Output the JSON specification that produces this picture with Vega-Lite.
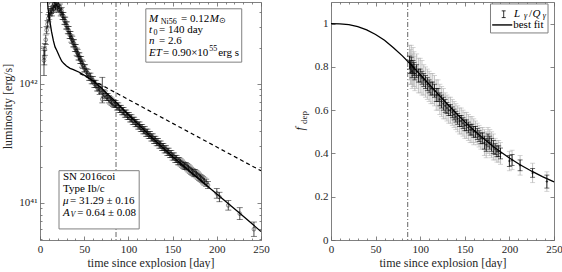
{
 "$schema": "https://vega.github.io/schema/vega-lite/v6.json",
 "padding": {"left": 1, "top": 1, "right": 0, "bottom": 0},
 "spacing": 22,
 "config": {
  "font": "Liberation Serif",
  "view": {"stroke": "#808080", "strokeWidth": 1},
  "axis": {"grid": false, "domain": false, "labelFont": "Liberation Serif", "labelFontSize": 11, "labelColor": "#262626", "titleFont": "Liberation Serif", "titleFontSize": 12, "titleFontWeight": "normal", "titleColor": "#262626", "tickColor": "#666666", "tickWidth": 0.8, "tickSize": -4, "labelPadding": 7, "titlePadding": 3, "labelFlush": false, "labelOverlap": false},
  "text": {"font": "Liberation Serif", "fontSize": 11, "color": "#000000", "align": "left", "baseline": "middle"}
 },
 "datasets": {
  "lum": [
   {"t":4.5,"logL":42.196,"lo":42.07,"hi":42.31},{"t":4.8,"logL":42.224,"lo":42.16,"hi":42.28},{"t":5.5,"logL":42.29,"lo":42.24,"hi":42.34},{"t":6.5,"logL":42.37,"lo":42.33,"hi":42.41},{"t":7.5,"logL":42.45,"lo":42.42,"hi":42.48},{"t":8.5,"logL":42.5,"lo":42.47,"hi":42.53},{"t":9.5,"logL":42.55,"lo":42.52,"hi":42.58},{"t":10.5,"logL":42.57,"lo":42.54,"hi":42.6},{"t":11.5,"logL":42.6,"lo":42.57,"hi":42.63},{"t":12.5,"logL":42.62,"lo":42.59,"hi":42.65},{"t":13.5,"logL":42.6,"lo":42.57,"hi":42.63},{"t":14.5,"logL":42.65,"lo":42.62,"hi":42.68},{"t":15.5,"logL":42.63,"lo":42.6,"hi":42.66},{"t":16.5,"logL":42.67,"lo":42.64,"hi":42.7},{"t":17.5,"logL":42.65,"lo":42.62,"hi":42.68},{"t":18.5,"logL":42.68,"lo":42.65,"hi":42.71},{"t":19.5,"logL":42.64,"lo":42.61,"hi":42.67},{"t":20.5,"logL":42.66,"lo":42.63,"hi":42.69},{"t":21.5,"logL":42.63,"lo":42.6,"hi":42.66},{"t":22.5,"logL":42.64,"lo":42.61,"hi":42.67},{"t":23.5,"logL":42.6,"lo":42.57,"hi":42.63},{"t":24.5,"logL":42.61,"lo":42.58,"hi":42.64},{"t":25.5,"logL":42.57,"lo":42.54,"hi":42.6},{"t":26.5,"logL":42.57,"lo":42.54,"hi":42.6},{"t":27.5,"logL":42.53,"lo":42.5,"hi":42.56},{"t":28.5,"logL":42.53,"lo":42.5,"hi":42.56},{"t":29.5,"logL":42.49,"lo":42.46,"hi":42.52},{"t":30.5,"logL":42.49,"lo":42.46,"hi":42.52},{"t":31.5,"logL":42.45,"lo":42.42,"hi":42.48},{"t":32.5,"logL":42.45,"lo":42.42,"hi":42.48},{"t":33.5,"logL":42.41,"lo":42.38,"hi":42.44},{"t":34.5,"logL":42.41,"lo":42.38,"hi":42.44},{"t":35.5,"logL":42.38,"lo":42.35,"hi":42.41},{"t":36.5,"logL":42.37,"lo":42.34,"hi":42.4},{"t":37.5,"logL":42.34,"lo":42.31,"hi":42.37},{"t":38.5,"logL":42.34,"lo":42.31,"hi":42.37},{"t":39.5,"logL":42.3,"lo":42.27,"hi":42.33},{"t":40.5,"logL":42.3,"lo":42.27,"hi":42.33},{"t":41.5,"logL":42.27,"lo":42.24,"hi":42.3},{"t":42.5,"logL":42.26,"lo":42.23,"hi":42.29},{"t":43.5,"logL":42.23,"lo":42.2,"hi":42.26},{"t":44.5,"logL":42.23,"lo":42.2,"hi":42.26},{"t":45.5,"logL":42.2,"lo":42.17,"hi":42.23},{"t":46.5,"logL":42.2,"lo":42.17,"hi":42.23},{"t":47.5,"logL":42.17,"lo":42.14,"hi":42.2},{"t":48.5,"logL":42.16,"lo":42.13,"hi":42.19},{"t":50,"logL":42.13,"lo":42.1,"hi":42.16},{"t":51,"logL":42.13,"lo":42.1,"hi":42.16},{"t":52.5,"logL":42.1,"lo":42.07,"hi":42.13},{"t":54,"logL":42.09,"lo":42.06,"hi":42.12},{"t":55.5,"logL":42.06,"lo":42.03,"hi":42.09},{"t":57,"logL":42.06,"lo":42.03,"hi":42.09},{"t":58.5,"logL":42.03,"lo":42.0,"hi":42.06},{"t":60,"logL":42.03,"lo":42.0,"hi":42.06},{"t":61.5,"logL":42.0,"lo":41.97,"hi":42.03},{"t":63,"logL":42.0,"lo":41.97,"hi":42.03},{"t":64.5,"logL":41.97,"lo":41.94,"hi":42.0},{"t":66,"logL":41.97,"lo":41.94,"hi":42.0},{"t":67.5,"logL":41.94,"lo":41.91,"hi":41.97},{"t":69,"logL":41.95,"lo":41.92,"hi":41.98},{"t":70.5,"logL":41.87,"lo":41.84,"hi":42.055},{"t":72,"logL":41.92,"lo":41.89,"hi":41.95},{"t":73.5,"logL":41.91,"lo":41.88,"hi":41.94},{"t":75,"logL":41.89,"lo":41.86,"hi":41.92},{"t":76.5,"logL":41.89,"lo":41.86,"hi":41.92},{"t":78,"logL":41.87,"lo":41.84,"hi":41.9},{"t":79.5,"logL":41.86,"lo":41.83,"hi":41.89},{"t":81,"logL":41.85,"lo":41.82,"hi":41.88},{"t":82.5,"logL":41.84,"lo":41.81,"hi":41.87},{"t":84,"logL":41.83,"lo":41.8,"hi":41.86},{"t":85.5,"logL":41.83,"lo":41.8,"hi":41.86},{"t":87,"logL":41.81,"lo":41.78,"hi":41.84},{"t":88.5,"logL":41.81,"lo":41.78,"hi":41.84},{"t":90,"logL":41.79,"lo":41.76,"hi":41.82},{"t":91.5,"logL":41.79,"lo":41.76,"hi":41.82},{"t":93,"logL":41.77,"lo":41.74,"hi":41.8},{"t":94.5,"logL":41.77,"lo":41.74,"hi":41.8},{"t":96,"logL":41.75,"lo":41.72,"hi":41.78},{"t":97.5,"logL":41.75,"lo":41.72,"hi":41.78},{"t":99,"logL":41.73,"lo":41.7,"hi":41.76},{"t":100.5,"logL":41.73,"lo":41.7,"hi":41.76},{"t":102,"logL":41.71,"lo":41.68,"hi":41.74},{"t":103.5,"logL":41.71,"lo":41.68,"hi":41.74},{"t":105,"logL":41.69,"lo":41.66,"hi":41.72},{"t":106.5,"logL":41.69,"lo":41.66,"hi":41.72},{"t":108,"logL":41.67,"lo":41.64,"hi":41.7},{"t":109.5,"logL":41.67,"lo":41.64,"hi":41.7},{"t":111,"logL":41.65,"lo":41.62,"hi":41.68},{"t":112.5,"logL":41.65,"lo":41.62,"hi":41.68},{"t":114,"logL":41.63,"lo":41.6,"hi":41.66},{"t":115.5,"logL":41.63,"lo":41.6,"hi":41.66},{"t":117,"logL":41.61,"lo":41.58,"hi":41.64},{"t":118.5,"logL":41.61,"lo":41.58,"hi":41.64},{"t":120,"logL":41.59,"lo":41.56,"hi":41.62},{"t":121.5,"logL":41.59,"lo":41.56,"hi":41.62},{"t":123,"logL":41.57,"lo":41.54,"hi":41.6},{"t":124.5,"logL":41.57,"lo":41.54,"hi":41.6},{"t":126,"logL":41.55,"lo":41.52,"hi":41.58},{"t":127.5,"logL":41.55,"lo":41.52,"hi":41.58},{"t":129,"logL":41.53,"lo":41.5,"hi":41.56},{"t":130.5,"logL":41.53,"lo":41.5,"hi":41.56},{"t":132,"logL":41.51,"lo":41.48,"hi":41.54},{"t":133.5,"logL":41.51,"lo":41.48,"hi":41.54},{"t":135,"logL":41.49,"lo":41.46,"hi":41.52},{"t":136.5,"logL":41.49,"lo":41.46,"hi":41.52},{"t":138,"logL":41.47,"lo":41.44,"hi":41.5},{"t":139.5,"logL":41.47,"lo":41.44,"hi":41.5},{"t":141,"logL":41.45,"lo":41.42,"hi":41.48},{"t":142.5,"logL":41.45,"lo":41.42,"hi":41.48},{"t":144,"logL":41.43,"lo":41.4,"hi":41.46},{"t":145.5,"logL":41.43,"lo":41.4,"hi":41.46},{"t":147,"logL":41.41,"lo":41.38,"hi":41.44},{"t":148.5,"logL":41.41,"lo":41.38,"hi":41.44},{"t":150,"logL":41.39,"lo":41.36,"hi":41.42},{"t":151.5,"logL":41.39,"lo":41.36,"hi":41.42},{"t":153,"logL":41.37,"lo":41.34,"hi":41.4},{"t":154.5,"logL":41.37,"lo":41.34,"hi":41.4},{"t":156,"logL":41.35,"lo":41.32,"hi":41.38},{"t":157.5,"logL":41.35,"lo":41.32,"hi":41.38},{"t":159,"logL":41.34,"lo":41.31,"hi":41.37},{"t":160.5,"logL":41.33,"lo":41.3,"hi":41.36},{"t":162,"logL":41.32,"lo":41.29,"hi":41.35},{"t":163.5,"logL":41.31,"lo":41.28,"hi":41.34},{"t":165,"logL":41.31,"lo":41.28,"hi":41.34},{"t":166.5,"logL":41.3,"lo":41.27,"hi":41.33},{"t":168,"logL":41.29,"lo":41.26,"hi":41.32},{"t":169.5,"logL":41.28,"lo":41.25,"hi":41.31},{"t":171,"logL":41.27,"lo":41.24,"hi":41.3},{"t":172.5,"logL":41.26,"lo":41.23,"hi":41.29},{"t":174,"logL":41.25,"lo":41.22,"hi":41.28},{"t":175.5,"logL":41.25,"lo":41.22,"hi":41.28},{"t":177,"logL":41.24,"lo":41.21,"hi":41.27},{"t":178.5,"logL":41.23,"lo":41.2,"hi":41.26},{"t":180,"logL":41.22,"lo":41.19,"hi":41.25},{"t":181.5,"logL":41.21,"lo":41.18,"hi":41.24},{"t":183,"logL":41.2,"lo":41.17,"hi":41.23},{"t":184.5,"logL":41.19,"lo":41.16,"hi":41.22},{"t":186,"logL":41.18,"lo":41.15,"hi":41.21},{"t":188,"logL":41.17,"lo":41.14,"hi":41.2},{"t":190,"logL":41.15,"lo":41.12,"hi":41.18},{"t":200,"logL":41.08,"lo":41.04,"hi":41.12},{"t":203,"logL":41.05,"lo":41.01,"hi":41.09},{"t":213,"logL":40.98,"lo":40.94,"hi":41.02},{"t":226,"logL":40.91,"lo":40.86,"hi":40.96},{"t":242,"logL":40.78,"lo":40.72,"hi":40.84}
  ],
  "lmodel": [
   {"t":8,"logL":42.76},{"t":9,"logL":42.64},{"t":10,"logL":42.58},{"t":11.3,"logL":42.52},{"t":13,"logL":42.44},{"t":15.2,"logL":42.36},{"t":17,"logL":42.31},{"t":19,"logL":42.28},{"t":22,"logL":42.23},{"t":24.6,"logL":42.19},{"t":27,"logL":42.17},{"t":30,"logL":42.15},{"t":34,"logL":42.13},{"t":37.8,"logL":42.12},{"t":45,"logL":42.095},{"t":53,"logL":42.06},{"t":60,"logL":42.025},{"t":64,"logL":42.0},{"t":70,"logL":41.96},{"t":77,"logL":41.91},{"t":85,"logL":41.855},{"t":100,"logL":41.74},{"t":125,"logL":41.56},{"t":150,"logL":41.39},{"t":175,"logL":41.23},{"t":200,"logL":41.075},{"t":225,"logL":40.92},{"t":250,"logL":40.76}
  ],
  "lfull": [{"t":45,"logL":42.088},{"t":88,"logL":41.916},{"t":250,"logL":41.27}],
  "fdep": [
   {"t":88,"f":0.82,"blo":0.79,"bhi":0.85,"glo":0.74,"ghi":0.9},{"t":89,"f":0.8,"blo":0.77,"bhi":0.83,"glo":0.72,"ghi":0.88},{"t":90,"f":0.81,"blo":0.775,"bhi":0.845,"glo":0.72,"ghi":0.9},{"t":91,"f":0.78,"blo":0.75,"bhi":0.81,"glo":0.7,"ghi":0.86},{"t":92,"f":0.8,"blo":0.77,"bhi":0.83,"glo":0.71,"ghi":0.89},{"t":93,"f":0.79,"blo":0.76,"bhi":0.82,"glo":0.71,"ghi":0.87},{"t":94,"f":0.77,"blo":0.74,"bhi":0.8,"glo":0.69,"ghi":0.85},{"t":96,"f":0.78,"blo":0.75,"bhi":0.81,"glo":0.7,"ghi":0.86},{"t":98,"f":0.76,"blo":0.73,"bhi":0.79,"glo":0.68,"ghi":0.84},{"t":100,"f":0.76,"blo":0.73,"bhi":0.79,"glo":0.68,"ghi":0.84},{"t":102,"f":0.75,"blo":0.72,"bhi":0.78,"glo":0.67,"ghi":0.83},{"t":104,"f":0.74,"blo":0.71,"bhi":0.77,"glo":0.67,"ghi":0.81},{"t":106,"f":0.73,"blo":0.7,"bhi":0.76,"glo":0.66,"ghi":0.8},{"t":108,"f":0.72,"blo":0.69,"bhi":0.75,"glo":0.65,"ghi":0.79},{"t":110,"f":0.71,"blo":0.68,"bhi":0.74,"glo":0.64,"ghi":0.78},{"t":112,"f":0.7,"blo":0.67,"bhi":0.73,"glo":0.63,"ghi":0.77},{"t":114,"f":0.7,"blo":0.67,"bhi":0.73,"glo":0.63,"ghi":0.77},{"t":116,"f":0.69,"blo":0.66,"bhi":0.72,"glo":0.62,"ghi":0.76},{"t":118,"f":0.67,"blo":0.64,"bhi":0.7,"glo":0.6,"ghi":0.74},{"t":120,"f":0.67,"blo":0.64,"bhi":0.7,"glo":0.6,"ghi":0.74},{"t":122,"f":0.65,"blo":0.62,"bhi":0.68,"glo":0.58,"ghi":0.72},{"t":124,"f":0.64,"blo":0.61,"bhi":0.67,"glo":0.57,"ghi":0.71},{"t":126,"f":0.63,"blo":0.6,"bhi":0.66,"glo":0.56,"ghi":0.7},{"t":128,"f":0.62,"blo":0.59,"bhi":0.65,"glo":0.56,"ghi":0.68},{"t":130,"f":0.61,"blo":0.585,"bhi":0.635,"glo":0.55,"ghi":0.67},{"t":132,"f":0.6,"blo":0.575,"bhi":0.625,"glo":0.54,"ghi":0.66},{"t":134,"f":0.6,"blo":0.575,"bhi":0.625,"glo":0.54,"ghi":0.66},{"t":136,"f":0.59,"blo":0.565,"bhi":0.615,"glo":0.53,"ghi":0.65},{"t":138,"f":0.58,"blo":0.555,"bhi":0.605,"glo":0.52,"ghi":0.64},{"t":140,"f":0.57,"blo":0.545,"bhi":0.595,"glo":0.51,"ghi":0.63},{"t":142,"f":0.56,"blo":0.535,"bhi":0.585,"glo":0.5,"ghi":0.62},{"t":144,"f":0.55,"blo":0.525,"bhi":0.575,"glo":0.49,"ghi":0.61},{"t":146,"f":0.55,"blo":0.525,"bhi":0.575,"glo":0.49,"ghi":0.61},{"t":148,"f":0.54,"blo":0.515,"bhi":0.565,"glo":0.48,"ghi":0.6},{"t":150,"f":0.53,"blo":0.505,"bhi":0.555,"glo":0.47,"ghi":0.59},{"t":152,"f":0.53,"blo":0.505,"bhi":0.555,"glo":0.47,"ghi":0.59},{"t":154,"f":0.52,"blo":0.495,"bhi":0.545,"glo":0.46,"ghi":0.58},{"t":156,"f":0.51,"blo":0.485,"bhi":0.535,"glo":0.45,"ghi":0.57},{"t":158,"f":0.51,"blo":0.485,"bhi":0.535,"glo":0.45,"ghi":0.57},{"t":160,"f":0.5,"blo":0.475,"bhi":0.525,"glo":0.44,"ghi":0.56},{"t":162,"f":0.5,"blo":0.475,"bhi":0.525,"glo":0.45,"ghi":0.55},{"t":164,"f":0.49,"blo":0.465,"bhi":0.515,"glo":0.44,"ghi":0.54},{"t":166,"f":0.48,"blo":0.455,"bhi":0.505,"glo":0.43,"ghi":0.53},{"t":168,"f":0.47,"blo":0.445,"bhi":0.495,"glo":0.42,"ghi":0.52},{"t":170,"f":0.47,"blo":0.445,"bhi":0.495,"glo":0.42,"ghi":0.52},{"t":172,"f":0.45,"blo":0.42,"bhi":0.48,"glo":0.39,"ghi":0.51},{"t":174,"f":0.44,"blo":0.41,"bhi":0.47,"glo":0.38,"ghi":0.5},{"t":176,"f":0.46,"blo":0.43,"bhi":0.49,"glo":0.4,"ghi":0.52},{"t":178,"f":0.45,"blo":0.42,"bhi":0.48,"glo":0.39,"ghi":0.51},{"t":180,"f":0.44,"blo":0.41,"bhi":0.47,"glo":0.38,"ghi":0.5},{"t":182,"f":0.43,"blo":0.4,"bhi":0.46,"glo":0.37,"ghi":0.49},{"t":184,"f":0.42,"blo":0.395,"bhi":0.445,"glo":0.37,"ghi":0.47},{"t":186,"f":0.41,"blo":0.385,"bhi":0.435,"glo":0.36,"ghi":0.46},{"t":188,"f":0.41,"blo":0.385,"bhi":0.435,"glo":0.36,"ghi":0.46},{"t":190,"f":0.4,"blo":0.375,"bhi":0.425,"glo":0.35,"ghi":0.45},{"t":200,"f":0.365,"blo":0.34,"bhi":0.39,"glo":0.32,"ghi":0.41},{"t":203,"f":0.37,"blo":0.345,"bhi":0.395,"glo":0.325,"ghi":0.415},{"t":212,"f":0.345,"blo":0.32,"bhi":0.37,"glo":0.3,"ghi":0.39},{"t":226,"f":0.31,"blo":0.29,"bhi":0.33,"glo":0.265,"ghi":0.355},{"t":242,"f":0.27,"blo":0.24,"bhi":0.3,"glo":0.225,"ghi":0.315}
  ],
  "ffit": [
   {"t":0,"f":1.0},{"t":10,"f":0.999},{"t":20,"f":0.995},{"t":30,"f":0.986},{"t":40,"f":0.971},{"t":50,"f":0.95},{"t":60,"f":0.923},{"t":70,"f":0.889},{"t":80,"f":0.851},{"t":90,"f":0.809},{"t":100,"f":0.765},{"t":110,"f":0.72},{"t":120,"f":0.674},{"t":130,"f":0.63},{"t":140,"f":0.587},{"t":150,"f":0.546},{"t":160,"f":0.508},{"t":170,"f":0.472},{"t":180,"f":0.438},{"t":190,"f":0.408},{"t":200,"f":0.379},{"t":212,"f":0.348},{"t":225,"f":0.318},{"t":237,"f":0.293},{"t":250,"f":0.269}
  ]
 },
 "hconcat": [
  {
   "width": 221, "height": 238,
   "data": {"values": [{}]},
   "resolve": {"axis": {"x": "independent", "y": "independent"}},
   "layer": [
    {"mark": {"type": "rule", "color": "#555555", "strokeWidth": 0.9, "strokeDash": [5, 2, 1, 2]}, "encoding": {"x": {"datum": 86, "axis": null}}},
    {
     "data": {"name": "lum"},
     "mark": {"type": "errorbar", "ticks": {"size": 6}, "color": "#000000", "thickness": 0.7, "clip": true},
     "encoding": {
      "x": {"field": "t", "type": "quantitative", "scale": {"domain": [0, 250], "nice": false, "zero": false}, "axis": {"orient": "bottom", "values": [10,20,30,40,60,70,80,90,110,120,130,140,160,170,180,190,210,220,230,240], "labels": false, "tickSize": -2, "title": null}},
      "y": {"field": "lo", "type": "quantitative", "scale": {"domain": [40.689, 42.687], "nice": false, "zero": false}, "axis": {"orient": "left", "values": [40.699,40.778,40.845,40.903,40.954,41.301,41.477,41.602,41.699,41.778,41.845,41.903,41.954,42.301,42.477,42.602], "labels": false, "tickSize": -2, "title": null}},
      "y2": {"field": "hi"}
     }
    },
    {
     "data": {"name": "lum"},
     "mark": {"type": "point", "shape": "circle", "filled": false, "size": 14, "stroke": "#000000", "strokeWidth": 0.6, "clip": true},
     "encoding": {
      "x": {"field": "t", "type": "quantitative", "scale": {"domain": [0, 250], "nice": false, "zero": false}, "axis": {"orient": "bottom", "values": [0,50,100,150,200,250], "title": "time since explosion [day]"}},
      "y": {"field": "logL", "type": "quantitative", "scale": {"domain": [40.689, 42.687], "nice": false, "zero": false}, "axis": {"orient": "left", "values": [41, 42], "labelExpr": "datum.value == 41 ? '10⁴¹' : '10⁴²'", "title": "luminosity [erg/s]", "titlePadding": 4, "titleY": 104}}
     }
    },
    {
     "data": {"name": "lmodel"},
     "mark": {"type": "line", "color": "#000000", "strokeWidth": 1.3, "clip": true},
     "encoding": {
      "x": {"field": "t", "type": "quantitative", "scale": {"domain": [0, 250], "nice": false, "zero": false}, "axis": {"orient": "top", "values": [0,50,100,150,200,250], "labels": false, "title": null}},
      "y": {"field": "logL", "type": "quantitative", "scale": {"domain": [40.689, 42.687], "nice": false, "zero": false}, "axis": {"orient": "right", "values": [41, 42], "labels": false, "title": null}}
     }
    },
    {
     "data": {"name": "lfull"},
     "mark": {"type": "line", "color": "#000000", "strokeWidth": 1.2, "strokeDash": [4, 3], "clip": true},
     "encoding": {
      "x": {"field": "t", "type": "quantitative", "scale": {"domain": [0, 250], "nice": false, "zero": false}, "axis": {"orient": "top", "values": [10,20,30,40,60,70,80,90,110,120,130,140,160,170,180,190,210,220,230,240], "labels": false, "tickSize": -2, "title": null}},
      "y": {"field": "logL", "type": "quantitative", "scale": {"domain": [40.689, 42.687], "nice": false, "zero": false}, "axis": {"orient": "right", "values": [40.699,40.778,40.845,40.903,40.954,41.301,41.477,41.602,41.699,41.778,41.845,41.903,41.954,42.301,42.477,42.602], "labels": false, "tickSize": -2, "title": null}}
     }
    },
    {"mark": {"type": "rect", "fill": "#ffffff", "stroke": "#808080", "strokeWidth": 1}, "encoding": {"x": {"datum": 119.7, "axis": null}, "x2": {"datum": 228.2}, "y": {"datum": 42.63, "axis": null}, "y2": {"datum": 42.182}}},
    {"mark": {"type": "rect", "fill": "#ffffff", "stroke": "#808080", "strokeWidth": 1}, "encoding": {"x": {"datum": 21.5, "axis": null}, "x2": {"datum": 112.2}, "y": {"datum": 41.271, "axis": null}, "y2": {"datum": 40.782}}},
    {"mark": {"type": "text", "text": "M", "fontStyle": "italic"}, "encoding": {"x": {"datum": 123.3, "axis": null}, "y": {"datum": 42.546, "axis": null}}},
    {"mark": {"type": "text", "text": "Ni56", "fontSize": 8}, "encoding": {"x": {"datum": 136.5, "axis": null}, "y": {"datum": 42.52, "axis": null}}},
    {"mark": {"type": "text", "text": "= 0.12"}, "encoding": {"x": {"datum": 159.5, "axis": null}, "y": {"datum": 42.546, "axis": null}}},
    {"mark": {"type": "text", "text": "M", "fontStyle": "italic"}, "encoding": {"x": {"datum": 192.0, "axis": null}, "y": {"datum": 42.546, "axis": null}}},
    {"mark": {"type": "text", "text": "⊙", "fontSize": 8}, "encoding": {"x": {"datum": 203.0, "axis": null}, "y": {"datum": 42.525, "axis": null}}},
    {"mark": {"type": "text", "text": "t", "fontStyle": "italic"}, "encoding": {"x": {"datum": 123.3, "axis": null}, "y": {"datum": 42.454, "axis": null}}},
    {"mark": {"type": "text", "text": "0", "fontSize": 8}, "encoding": {"x": {"datum": 128.4, "axis": null}, "y": {"datum": 42.43, "axis": null}}},
    {"mark": {"type": "text", "text": "= 140 day"}, "encoding": {"x": {"datum": 134.6, "axis": null}, "y": {"datum": 42.454, "axis": null}}},
    {"mark": {"type": "text", "text": "n", "fontStyle": "italic"}, "encoding": {"x": {"datum": 123.3, "axis": null}, "y": {"datum": 42.361, "axis": null}}},
    {"mark": {"type": "text", "text": "= 2.6"}, "encoding": {"x": {"datum": 134.6, "axis": null}, "y": {"datum": 42.361, "axis": null}}},
    {"mark": {"type": "text", "text": "ET", "fontStyle": "italic"}, "encoding": {"x": {"datum": 123.3, "axis": null}, "y": {"datum": 42.26, "axis": null}}},
    {"mark": {"type": "text", "text": "= 0.90×10"}, "encoding": {"x": {"datum": 139.1, "axis": null}, "y": {"datum": 42.26, "axis": null}}},
    {"mark": {"type": "text", "text": "55", "fontSize": 8}, "encoding": {"x": {"datum": 191.6, "axis": null}, "y": {"datum": 42.29, "axis": null}}},
    {"mark": {"type": "text", "text": "erg s"}, "encoding": {"x": {"datum": 201.6, "axis": null}, "y": {"datum": 42.26, "axis": null}}},
    {"mark": {"type": "text", "text": "SN 2016coi"}, "encoding": {"x": {"datum": 26.0, "axis": null}, "y": {"datum": 41.221, "axis": null}}},
    {"mark": {"type": "text", "text": "Type Ib/c"}, "encoding": {"x": {"datum": 26.0, "axis": null}, "y": {"datum": 41.12, "axis": null}}},
    {"mark": {"type": "text", "text": "μ", "fontStyle": "italic"}, "encoding": {"x": {"datum": 26.0, "axis": null}, "y": {"datum": 41.019, "axis": null}}},
    {"mark": {"type": "text", "text": "= 31.29 ± 0.16"}, "encoding": {"x": {"datum": 34.0, "axis": null}, "y": {"datum": 41.019, "axis": null}}},
    {"mark": {"type": "text", "text": "A", "fontStyle": "italic"}, "encoding": {"x": {"datum": 26.0, "axis": null}, "y": {"datum": 40.918, "axis": null}}},
    {"mark": {"type": "text", "text": "V", "fontStyle": "italic", "fontSize": 8}, "encoding": {"x": {"datum": 34.6, "axis": null}, "y": {"datum": 40.895, "axis": null}}},
    {"mark": {"type": "text", "text": "= 0.64 ± 0.08"}, "encoding": {"x": {"datum": 42.0, "axis": null}, "y": {"datum": 40.918, "axis": null}}}
   ]
  },
  {
   "width": 223, "height": 238,
   "data": {"values": [{}]},
   "resolve": {"axis": {"x": "independent", "y": "independent"}},
   "layer": [
    {"mark": {"type": "rule", "color": "#555555", "strokeWidth": 0.9, "strokeDash": [5, 2, 1, 2]}, "encoding": {"x": {"datum": 86, "axis": null}}},
    {
     "data": {"name": "fdep"},
     "mark": {"type": "errorbar", "ticks": {"size": 5}, "color": "#b4b4b4", "thickness": 0.8},
     "encoding": {
      "x": {"field": "t", "type": "quantitative", "scale": {"domain": [0, 250], "nice": false, "zero": false}, "axis": {"orient": "bottom", "values": [10,20,30,40,60,70,80,90,110,120,130,140,160,170,180,190,210,220,230,240], "labels": false, "tickSize": -2, "title": null}},
      "y": {"field": "glo", "type": "quantitative", "scale": {"domain": [0, 1.1], "nice": false, "zero": false}, "axis": {"orient": "left", "values": [0, 0.2, 0.4, 0.6, 0.8, 1], "format": "~g", "title": "f", "titleFontStyle": "italic", "titleFontSize": 12, "titleAngle": 270, "titleAlign": "left", "titleBaseline": "alphabetic", "titleX": -28, "titleY": 128}},
      "y2": {"field": "ghi"}
     }
    },
    {
     "data": {"name": "fdep"},
     "mark": {"type": "errorbar", "ticks": {"size": 5}, "color": "#000000", "thickness": 0.8},
     "encoding": {
      "x": {"field": "t", "type": "quantitative", "scale": {"domain": [0, 250], "nice": false, "zero": false}, "axis": {"orient": "bottom", "values": [0,50,100,150,200,250], "title": "time since explosion [day]"}},
      "y": {"field": "blo", "type": "quantitative", "scale": {"domain": [0, 1.1], "nice": false, "zero": false}, "axis": {"orient": "right", "values": [0, 0.2, 0.4, 0.6, 0.8, 1], "labels": false, "title": null}},
      "y2": {"field": "bhi"}
     }
    },
    {
     "data": {"name": "fdep"},
     "mark": {"type": "point", "shape": "cross", "filled": true, "size": 6, "color": "#000000"},
     "encoding": {
      "x": {"field": "t", "type": "quantitative", "scale": {"domain": [0, 250], "nice": false, "zero": false}, "axis": {"orient": "top", "values": [0,50,100,150,200,250], "labels": false, "title": null}},
      "y": {"field": "f", "type": "quantitative", "scale": {"domain": [0, 1.1], "nice": false, "zero": false}, "axis": {"orient": "left", "labels": false, "ticks": false, "title": "dep", "titleFontSize": 9, "titleAngle": 270, "titleAlign": "left", "titleBaseline": "alphabetic", "titleX": -25, "titleY": 121.5}}
     }
    },
    {
     "data": {"name": "ffit"},
     "mark": {"type": "line", "color": "#000000", "strokeWidth": 1.3},
     "encoding": {
      "x": {"field": "t", "type": "quantitative", "scale": {"domain": [0, 250], "nice": false, "zero": false}, "axis": {"orient": "top", "values": [10,20,30,40,60,70,80,90,110,120,130,140,160,170,180,190,210,220,230,240], "labels": false, "tickSize": -2, "title": null}},
      "y": {"field": "f", "type": "quantitative", "scale": {"domain": [0, 1.1], "nice": false, "zero": false}, "axis": null}
     }
    },
    {"mark": {"type": "rect", "fill": "#ffffff", "stroke": "#808080", "strokeWidth": 1}, "encoding": {"x": {"datum": 178.8, "axis": null}, "x2": {"datum": 243.3}, "y": {"datum": 1.091, "axis": null}, "y2": {"datum": 0.957}}},
    {"mark": {"type": "rule", "color": "#000000", "strokeWidth": 0.8}, "encoding": {"x": {"datum": 193.6, "axis": null}, "y": {"datum": 1.028, "axis": null}, "y2": {"datum": 1.059}}},
    {"mark": {"type": "rule", "color": "#000000", "strokeWidth": 0.8}, "encoding": {"x": {"datum": 191.4, "axis": null}, "x2": {"datum": 195.8}, "y": {"datum": 1.028, "axis": null}}},
    {"mark": {"type": "rule", "color": "#000000", "strokeWidth": 0.8}, "encoding": {"x": {"datum": 191.4, "axis": null}, "x2": {"datum": 195.8}, "y": {"datum": 1.059, "axis": null}}},
    {"mark": {"type": "rule", "color": "#000000", "strokeWidth": 1.4}, "encoding": {"x": {"datum": 180.7, "axis": null}, "x2": {"datum": 203.2}, "y": {"datum": 0.994, "axis": null}}},
    {"mark": {"type": "text", "text": "L", "fontStyle": "italic"}, "encoding": {"x": {"datum": 205.2, "axis": null}, "y": {"datum": 1.045, "axis": null}}},
    {"mark": {"type": "text", "text": "γ", "fontStyle": "italic", "fontSize": 8}, "encoding": {"x": {"datum": 216.4, "axis": null}, "y": {"datum": 1.033, "axis": null}}},
    {"mark": {"type": "text", "text": "/"}, "encoding": {"x": {"datum": 222.0, "axis": null}, "y": {"datum": 1.045, "axis": null}}},
    {"mark": {"type": "text", "text": "Q", "fontStyle": "italic"}, "encoding": {"x": {"datum": 226.0, "axis": null}, "y": {"datum": 1.045, "axis": null}}},
    {"mark": {"type": "text", "text": "γ", "fontStyle": "italic", "fontSize": 8}, "encoding": {"x": {"datum": 237.4, "axis": null}, "y": {"datum": 1.033, "axis": null}}},
    {"mark": {"type": "text", "text": "best fit"}, "encoding": {"x": {"datum": 204.3, "axis": null}, "y": {"datum": 0.994, "axis": null}}}
   ]
  }
 ]
}
